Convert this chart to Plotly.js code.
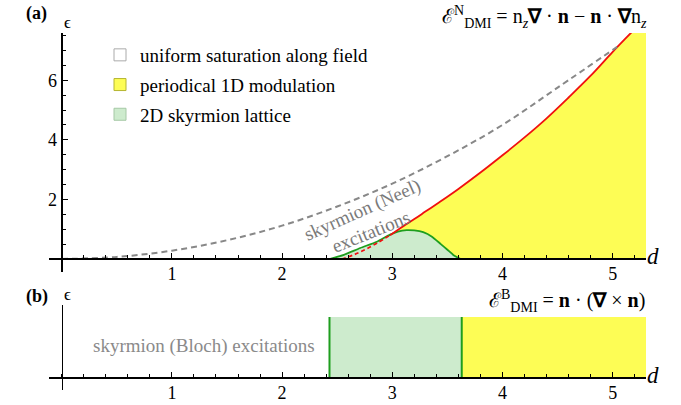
<!DOCTYPE html>
<html>
<head>
<meta charset="utf-8">
<script src="https://cdn.plot.ly/plotly-3.0.1.min.js"></script>
<style>html,body{margin:0;padding:0;background:#fff}#chart{width:681px;height:405px}</style>
</head>
<body>
<div id="chart"></div>
<script>
// ---- data ----
const saturationD   = [0, 0.5, 1, 1.5, 2, 2.5, 3, 3.5, 4, 4.5, 5.04];
const saturationEps = [0, 0.07, 0.28, 0.63, 1.12, 1.76, 2.53, 3.45, 4.50, 5.75, 7.12];

const redSolidD   = [2.98, 3.1, 3.2, 3.3, 3.4, 3.5, 3.6, 3.8, 4.0, 4.2, 4.4, 4.6, 4.8, 5.0, 5.2, 5.4];
const redSolidEps = [0.80, 1.10, 1.34, 1.59, 1.84, 2.09, 2.35, 2.90, 3.48, 4.08, 4.72, 5.42, 6.15, 6.95, 7.72, 8.5];

const redDashD   = [2.54, 2.65, 2.75, 2.86, 2.98];
const redDashEps = [0, 0.14, 0.31, 0.53, 0.80];

const latticeD   = [2.43, 2.56, 2.71, 2.86, 2.98, 3.05, 3.13, 3.2, 3.28, 3.36, 3.44, 3.5, 3.56, 3.62];
const latticeEps = [0, 0.14, 0.37, 0.58, 0.82, 0.92, 0.97, 0.96, 0.90, 0.75, 0.50, 0.31, 0.12, 0];

// panel (b): Bloch case, phase boundaries along d
const blochD      = [2.43, 3.63, 5.4];   // lattice start, lattice end / modulation start, beyond right edge
const blochHeight = [1, 1];

const xTicks = [1, 2, 3, 4, 5];
const yTicks = [2, 4, 6];
const legendNames = ['uniform saturation along field', 'periodical 1D modulation', '2D skyrmion lattice'];

// ---- styling ----
const FONT = '"Liberation Serif"';
const YELLOW = '#fdfd55', LGREEN = '#cdebcd', DGREEN = '#1e9e1e', RED = '#f01010', GRAY = '#888888';

const traces = [
  {x: redDashD.concat(redSolidD), y: redDashEps.concat(redSolidEps), type: 'scatter', mode: 'none',
   fill: 'tozeroy', fillcolor: YELLOW, line: {shape: 'spline'}, showlegend: false, hoverinfo: 'skip', xaxis: 'x', yaxis: 'y'},
  {x: latticeD, y: latticeEps, type: 'scatter', mode: 'lines', fill: 'tozeroy', fillcolor: LGREEN,
   line: {color: DGREEN, width: 1.8, shape: 'spline', smoothing: 0.6}, showlegend: false, xaxis: 'x', yaxis: 'y'},
  {x: redSolidD, y: redSolidEps, type: 'scatter', mode: 'lines', line: {color: RED, width: 1.8, shape: 'spline'},
   showlegend: false, xaxis: 'x', yaxis: 'y'},
  {x: redDashD, y: redDashEps, type: 'scatter', mode: 'lines', line: {color: RED, width: 1.7, dash: '4px,3px', shape: 'spline'},
   showlegend: false, xaxis: 'x', yaxis: 'y'},
  {x: saturationD, y: saturationEps, type: 'scatter', mode: 'lines',
   line: {color: GRAY, width: 2, dash: '6px,4px', shape: 'spline'}, showlegend: false, xaxis: 'x', yaxis: 'y'},
  // panel (b)
  {x: blochD.slice(0, 2), y: blochHeight, type: 'scatter', mode: 'none', fill: 'tozeroy', fillcolor: LGREEN,
   showlegend: false, xaxis: 'x2', yaxis: 'y2'},
  {x: blochD.slice(1, 3), y: blochHeight, type: 'scatter', mode: 'none', fill: 'tozeroy', fillcolor: YELLOW,
   showlegend: false, xaxis: 'x2', yaxis: 'y2'},
  {x: [blochD[0], blochD[0]], y: [0, blochHeight[0]], type: 'scatter', mode: 'lines',
   line: {color: DGREEN, width: 2}, showlegend: false, xaxis: 'x2', yaxis: 'y2'},
  {x: [blochD[1], blochD[1]], y: [0, blochHeight[1]], type: 'scatter', mode: 'lines',
   line: {color: DGREEN, width: 2}, showlegend: false, xaxis: 'x2', yaxis: 'y2'},
  // legend entries
  {x: [null], y: [null], type: 'bar', name: legendNames[0], legendgroup: 'a',
   marker: {color: '#ffffff', line: {color: '#aaaaaa', width: 1}}, xaxis: 'x', yaxis: 'y'},
  {x: [null], y: [null], type: 'bar', name: legendNames[1], legendgroup: 'b',
   marker: {color: YELLOW, line: {color: '#b5b530', width: 1}}, xaxis: 'x', yaxis: 'y'},
  {x: [null], y: [null], type: 'bar', name: legendNames[2], legendgroup: 'c',
   marker: {color: LGREEN, line: {color: '#a5c8a5', width: 1}}, xaxis: 'x', yaxis: 'y'}
];

const W = 681, H = 405;
const px = v => v / W, py = v => 1 - v / H;
const xRange = [(49 - 61.7) / 110.2, (646 - 61.7) / 110.2];

function xAxis(pos) {
  return {domain: [px(49), px(646)], range: xRange, anchor: 'free', position: pos,
    showline: true, linewidth: 2, linecolor: '#000', showgrid: false, zeroline: false,
    tickmode: 'array', tickvals: xTicks, ticktext: xTicks.map(String), ticks: 'inside', ticklen: 5, tickwidth: 1,
    tickcolor: '#000', tickfont: {family: FONT, size: 18, color: '#000'}, ticklabelstandoff: -2,
    minor: {dtick: 0.2, tick0: 0, ticks: 'inside', ticklen: 3, tickwidth: 1, tickcolor: '#000', showgrid: false},
    fixedrange: true};
}

const layout = {
  width: W, height: H, margin: {l: 0, r: 0, t: 0, b: 0},
  paper_bgcolor: '#fff', plot_bgcolor: 'rgba(0,0,0,0)',
  font: {family: FONT, size: 16, color: '#000'},
  showlegend: true,
  legend: {x: px(100), y: py(36), xanchor: 'left', yanchor: 'top', bgcolor: 'rgba(0,0,0,0)',
    font: {family: FONT, size: 19, color: '#000'}, traceorder: 'grouped', tracegroupgap: 2},
  xaxis: xAxis(py(259)),
  yaxis: {domain: [py(272), py(33)], range: [(259 - 272) / 29.8, (259 - 33) / 29.8], anchor: 'free', position: px(61.7),
    showline: true, linewidth: 2, linecolor: '#000', showgrid: false, zeroline: false,
    tickmode: 'array', tickvals: yTicks, ticktext: yTicks.map(String), ticks: 'inside', ticklen: 5, tickwidth: 1,
    tickcolor: '#000', tickfont: {family: FONT, size: 18, color: '#000'},
    minor: {dtick: 0.5, tick0: 0, ticks: 'inside', ticklen: 3, tickwidth: 1, tickcolor: '#000', showgrid: false},
    fixedrange: true},
  xaxis2: xAxis(py(378)),
  yaxis2: {domain: [py(390), py(305)], range: [(378 - 390) / 61, (378 - 305) / 61], anchor: 'free', position: px(61.7),
    showline: true, linewidth: 1, linecolor: '#000', showgrid: false, zeroline: false, showticklabels: false,
    ticks: '', fixedrange: true},
  annotations: [
    {xref: 'paper', yref: 'paper', x: px(24), y: py(13), yanchor: 'middle', text: '<b>(a)</b>', showarrow: false,
     font: {family: FONT, size: 18}},
    {xref: 'paper', yref: 'paper', x: px(24), y: py(296), yanchor: 'middle', text: '<b>(b)</b>', showarrow: false,
     font: {family: FONT, size: 18}},
    {xref: 'paper', yref: 'paper', x: px(62), y: py(22), yanchor: 'middle', text: 'ϵ', showarrow: false, font: {family: FONT, size: 17}},
    {xref: 'paper', yref: 'paper', x: px(62), y: py(294), yanchor: 'middle', text: 'ϵ', showarrow: false, font: {family: FONT, size: 17}},
    {xref: 'paper', yref: 'paper', x: px(661), y: py(256), yanchor: 'middle', text: '<i>d</i>', showarrow: false, font: {family: FONT, size: 23}},
    {xref: 'paper', yref: 'paper', x: px(661), y: py(375), yanchor: 'middle', text: '<i>d</i>', showarrow: false, font: {family: FONT, size: 23}},
    {xref: 'paper', yref: 'paper', x: px(649), y: py(17), xanchor: 'right', yanchor: 'middle',
     text: 'ℰ<sup>N</sup><sub>DMI</sub> = n<sub><i>z</i></sub><b>∇</b> · <b>n</b> − <b>n</b> · <b>∇</b>n<sub><i>z</i></sub>',
     showarrow: false, font: {family: FONT, size: 20}},
    {xref: 'paper', yref: 'paper', x: px(647), y: py(301), xanchor: 'right', yanchor: 'middle',
     text: 'ℰ<sup>B</sup><sub>DMI</sub> = <b>n</b> · (<b>∇</b> × <b>n</b>)',
     showarrow: false, font: {family: FONT, size: 20}},
    {xref: 'x', yref: 'y', x: 2.73, y: 1.64, text: 'skyrmion (Neel)', textangle: -24, showarrow: false,
     font: {family: FONT, size: 19, color: '#7a7a7a'}},
    {xref: 'x', yref: 'y', x: 2.81, y: 0.91, text: 'excitations', textangle: -22, showarrow: false,
     font: {family: FONT, size: 19, color: '#7a7a7a'}},
    {xref: 'x2', yref: 'y2', x: 1.29, y: 0.52, text: 'skyrmion (Bloch) excitations', showarrow: false,
     font: {family: FONT, size: 19, color: '#8a8a8a'}}
  ]
};

Plotly.newPlot('chart', traces, layout, {staticPlot: true, displayModeBar: false});
</script>
</body>
</html>
